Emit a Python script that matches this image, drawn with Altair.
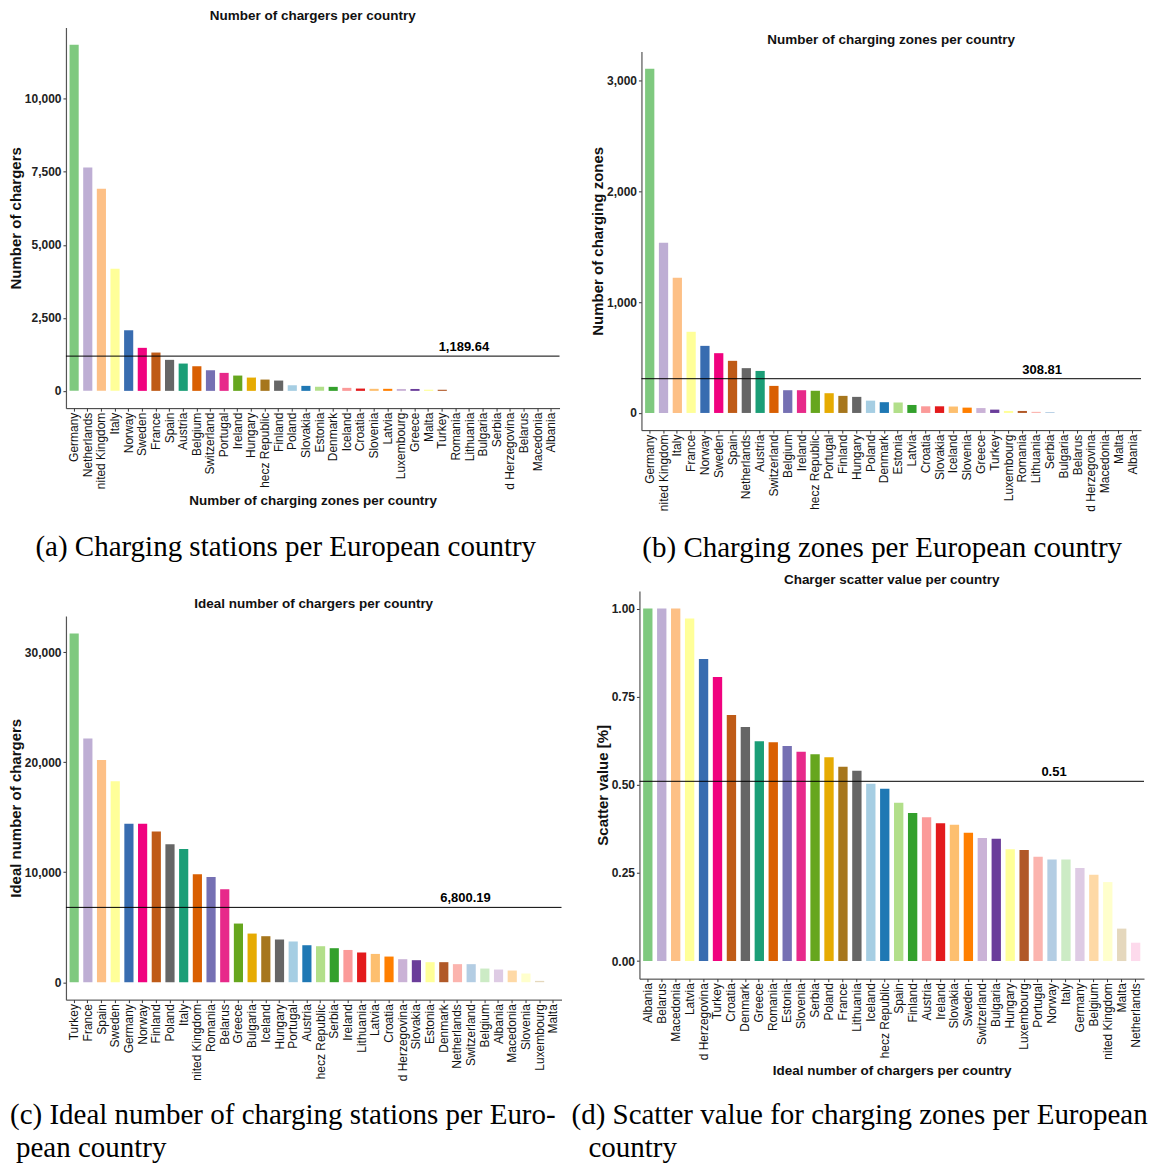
import altair as alt
import pandas as pd

FONT = "Liberation Sans"
SERIF = "Liberation Serif"

# ggplot-like palette (Accent + Dark2 + Paired + Pastel1), applied by rank
PALETTE = [
    "#7FC97F", "#BEAED4", "#FDC086", "#FFFF99", "#386CB0", "#F0027F", "#BF5B17", "#666666",
    "#1B9E77", "#D95F02", "#7570B3", "#E7298A", "#66A61E", "#E6AB02", "#A6761D", "#666666",
    "#A6CEE3", "#1F78B4", "#B2DF8A", "#33A02C", "#FB9A99", "#E31A1C", "#FDBF6F", "#FF7F00",
    "#CAB2D6", "#6A3D9A", "#FFFF99", "#B15928", "#FBB4AE", "#B3CDE3", "#CCEBC5", "#DECBE4",
    "#FED9A6", "#FFFFCC", "#E5D8BD", "#FDDAEC",
]

# (a) Number of chargers per country
COUNTRIES_A = ["Germany", "Netherlands", "nited Kingdom", "Italy", "Norway", "Sweden", "France", "Spain",
               "Austria", "Belgium", "Switzerland", "Portugal", "Ireland", "Hungary", "hecz Republic",
               "Finland", "Poland", "Slovakia", "Estonia", "Denmark", "Iceland", "Croatia", "Slovenia",
               "Latvia", "Luxembourg", "Greece", "Malta", "Turkey", "Romania", "Lithuania", "Bulgaria",
               "Serbia", "d Herzegovina", "Belarus", "Macedonia", "Albania"]
VALUES_A = [11850, 7650, 6920, 4180, 2075, 1473, 1312, 1062, 935, 843, 706, 616, 524, 455, 387, 353,
            192, 171, 137, 137, 103, 79, 70, 70, 65, 65, 40, 38, 0, 0, 0, 0, 0, 0, 0, 0]
MEAN_A = 1189.64

# (b) Number of charging zones per country
COUNTRIES_B = ["Germany", "nited Kingdom", "Italy", "France", "Norway", "Sweden", "Spain", "Netherlands",
               "Austria", "Switzerland", "Belgium", "Ireland", "hecz Republic", "Portugal", "Finland",
               "Hungary", "Poland", "Denmark", "Estonia", "Latvia", "Croatia", "Slovakia", "Iceland",
               "Slovenia", "Greece", "Turkey", "Luxembourg", "Romania", "Lithuania", "Serbia", "Bulgaria",
               "Belarus", "d Herzegovina", "Macedonia", "Malta", "Albania"]
VALUES_B = [3105, 1536, 1220, 732, 605, 539, 470, 404, 379, 244, 205, 205, 200, 178, 154, 145, 111, 97,
            95, 72, 60, 60, 58, 48, 44, 30, 18, 18, 10, 8, 0, 0, 0, 0, 0, 0]
MEAN_B = 308.81

# (c) Ideal number of chargers per country
COUNTRIES_C = ["Turkey", "France", "Spain", "Sweden", "Germany", "Norway", "Finland", "Poland", "Italy",
               "nited Kingdom", "Romania", "Belarus", "Greece", "Bulgaria", "Iceland", "Hungary", "Portugal",
               "Austria", "hecz Republic", "Serbia", "Ireland", "Lithuania", "Latvia", "Croatia",
               "d Herzegovina", "Slovakia", "Estonia", "Denmark", "Netherlands", "Switzerland", "Belgium",
               "Albania", "Macedonia", "Slovenia", "Luxembourg", "Malta"]
VALUES_C = [31700, 22160, 20190, 18260, 14410, 14410, 13690, 12530, 12110, 9810, 9560, 8450, 5330, 4420,
            4180, 3880, 3700, 3360, 3270, 3090, 2930, 2700, 2570, 2330, 2090, 2000, 1820, 1820, 1640, 1640,
            1240, 1150, 1060, 790, 120, 0]
MEAN_C = 6800.19

# (d) Charger scatter value per country
COUNTRIES_D = ["Albania", "Belarus", "Macedonia", "Latvia", "d Herzegovina", "Turkey", "Croatia", "Denmark",
               "Greece", "Romania", "Estonia", "Slovenia", "Serbia", "Poland", "France", "Lithuania",
               "Iceland", "hecz Republic", "Spain", "Finland", "Austria", "Ireland", "Slovakia", "Sweden",
               "Switzerland", "Bulgaria", "Hungary", "Luxembourg", "Portugal", "Norway", "Italy", "Germany",
               "Belgium", "nited Kingdom", "Malta", "Netherlands"]
VALUES_D = [1.0, 1.0, 1.0, 0.972, 0.857, 0.806, 0.698, 0.664, 0.624, 0.621, 0.610, 0.594, 0.587, 0.578,
            0.551, 0.540, 0.503, 0.489, 0.449, 0.420, 0.408, 0.391, 0.387, 0.364, 0.349, 0.347, 0.317,
            0.315, 0.296, 0.288, 0.288, 0.264, 0.245, 0.224, 0.092, 0.052]
MEAN_D = 0.51

TITLES = ["Number of chargers per country", "Number of charging zones per country",
          "Ideal number of chargers per country", "Charger scatter value per country"]
Y_TITLES = ["Number of chargers", "Number of charging zones", "Ideal number of chargers", "Scatter value [%]"]
X_TITLES = ["Number of charging zones per country", None, None, "Ideal number of chargers per country"]
CAPTIONS = [
    ["(a) Charging stations per European country"],
    ["(b) Charging zones per European country"],
    ["(c) Ideal number of charging stations per Euro-", "pean country"],
    ["(d) Scatter value for charging zones per European", "country"],
]
Y_TICKS = [[0, 2500, 5000, 7500, 10000], [0, 1000, 2000, 3000], [0, 10000, 20000, 30000],
           [0, 0.25, 0.5, 0.75, 1.0]]


def panel(countries, values, mean, title, ytitle, xtitle, width, height, ydomain, yticks, yfmt, mfmt,
          label_idx, label_dx, captions, cap_pos, cap_align):
    df = pd.DataFrame({"country": countries, "value": values, "rank": list(range(len(countries)))})
    xkw = dict(sort=countries,
               scale=alt.Scale(paddingInner=0.33, paddingOuter=0.265),
               axis=alt.Axis(labelAngle=-90, labelFontSize=12, labelColor="#111", labelPadding=1,
                             labelOverlap=False, tickSize=3, tickColor="#333", domainColor="#333",
                             domainWidth=1, titleFontSize=13.5, titleFontWeight="bold",
                             titlePadding=4, titleColor="#111"))
    xkw["title"] = xtitle
    x = alt.X("country:N", **xkw)
    y = alt.Y("value:Q", title=ytitle,
              scale=alt.Scale(domain=ydomain, nice=False, zero=False),
              axis=alt.Axis(values=yticks, format=yfmt, labelFontSize=12, labelFontWeight="bold",
                            labelColor="#222", labelPadding=2, tickSize=3, tickColor="#333",
                            domainColor="#555", domainWidth=1.2, grid=False, titleFontSize=15,
                            titleFontWeight="bold", titlePadding=1, titleColor="#111"))
    bars = alt.Chart(df).mark_bar().encode(
        x=x, y=y, y2=alt.datum(0),
        color=alt.Color("rank:O", scale=alt.Scale(domain=list(range(36)), range=PALETTE), legend=None),
    )
    mdf = pd.DataFrame({"mean": [mean], "country": [countries[label_idx]]})
    rule = alt.Chart(mdf).mark_rule(color="black", strokeWidth=1).encode(y="mean:Q")
    txt = alt.Chart(mdf).mark_text(fontSize=13, fontWeight="bold", color="black", dx=label_dx, dy=-5,
                                   baseline="alphabetic", align="center").encode(
        x=alt.X("country:N", sort=countries),
        y="mean:Q",
        text=alt.Text("mean:Q", format=mfmt),
    )
    layers = [bars, rule, txt]
    for line, (cx, cy) in zip(captions, cap_pos):
        cdf = pd.DataFrame({"caption": [line]})
        layers.append(alt.Chart(cdf).mark_text(font=SERIF, fontSize=29, color="black", align=cap_align,
                                               baseline="alphabetic").encode(
            x=alt.value(cx), y=alt.value(cy), text="caption:N"))
    return alt.layer(*layers).properties(
        width=width, height=height,
        title=alt.Title(title, fontSize=13.5, fontWeight="bold", offset=5, anchor="middle", color="#111"))


def spacer(h):
    return alt.Chart(pd.DataFrame({"s": [""]})).mark_text().encode(
        text="s:N", x=alt.value(0), y=alt.value(0)).properties(width=1, height=h)


pa = panel(COUNTRIES_A, VALUES_A, MEAN_A, TITLES[0], Y_TITLES[0], X_TITLES[0], 494, 381,
           [-592, 12442], Y_TICKS[0], ",d", ",.2f", 28, 8, CAPTIONS[0], [(220, 529)], "center")
pb = panel(COUNTRIES_B, VALUES_B, MEAN_B, TITLES[1], Y_TITLES[1], X_TITLES[1], 500, 379,
           [-155, 3260], Y_TICKS[1], ",d", ",.2f", 28, 6, CAPTIONS[1], [(241, 506)], "center")
pc = panel(COUNTRIES_C, VALUES_C, MEAN_C, TITLES[2], Y_TITLES[2], X_TITLES[2], 496, 384,
           [-1585, 33285], Y_TICKS[2], ",d", ",.2f", 28, 8, CAPTIONS[2], [(-56, 508), (-50, 542)], "left")
pd_ = panel(COUNTRIES_D, VALUES_D, MEAN_D, TITLES[3], Y_TITLES[3], X_TITLES[3], 505, 388,
            [-0.05, 1.05], Y_TICKS[3], ".2f", ".2f", 29, 2, CAPTIONS[3], [(-68, 533), (-51, 567)], "left")

row1 = alt.hconcat(pa, alt.vconcat(spacer(1), pb, spacing=0), spacing=29)
row2 = alt.hconcat(alt.vconcat(spacer(6), pc, spacing=0), pd_, spacing=9)

chart = alt.vconcat(row1, row2, spacing=9).properties(
    padding={"left": 0, "top": 0, "right": 0, "bottom": 0}
).configure(font=FONT).configure_view(strokeWidth=0)

chart.save("out.html", embed_options={"renderer": "svg", "actions": False})
